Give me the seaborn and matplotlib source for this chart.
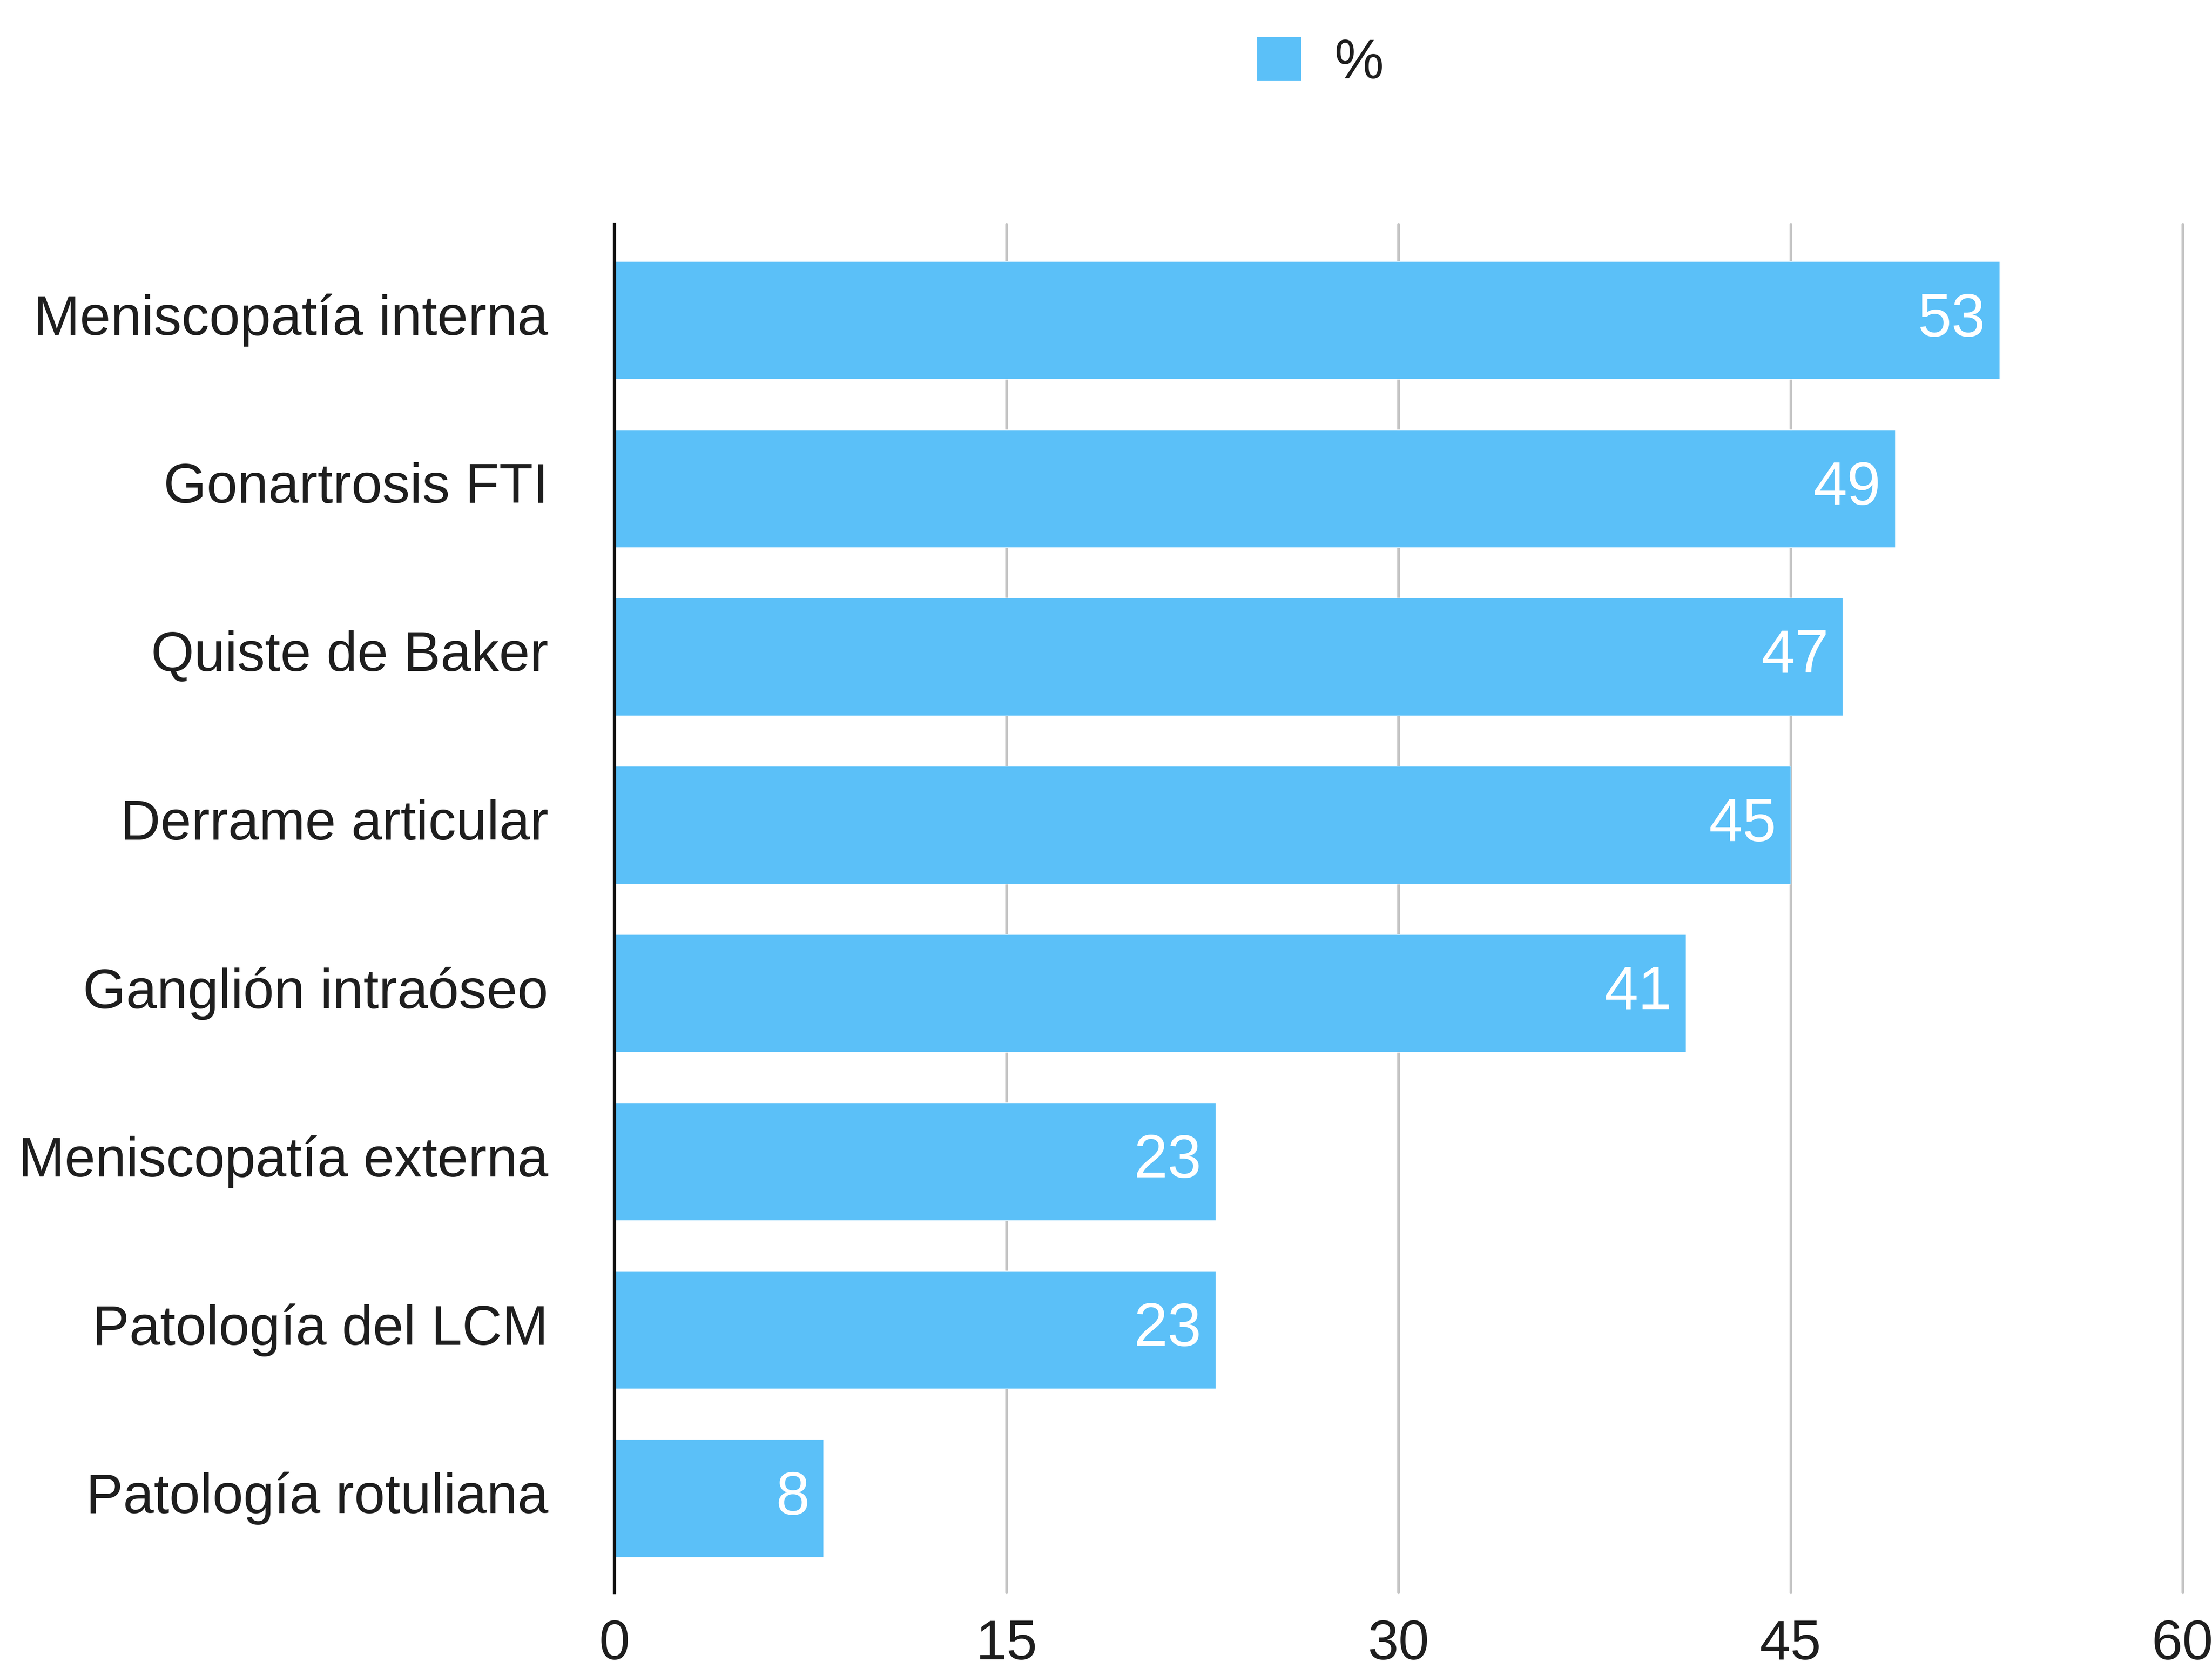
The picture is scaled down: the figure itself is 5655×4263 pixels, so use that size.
import matplotlib
matplotlib.use("Agg")
import matplotlib.pyplot as plt
from matplotlib.patches import Patch
import seaborn as sns
import pandas as pd

# Hallazgos de resonancia de rodilla (%)
categorias = [
    "Meniscopatía interna",
    "Gonartrosis FTI",
    "Quiste de Baker",
    "Derrame articular",
    "Ganglión intraóseo",
    "Meniscopatía externa",
    "Patología del LCM",
    "Patología rotuliana",
]
porcentajes = [53, 49, 47, 45, 41, 23, 23, 8]
ticks_x = [0, 15, 30, 45, 60]
serie = "%"

BAR_COLOR = "#5BC0F8"
TEXT_COLOR = "#1e1e1e"
FS = 102

sns.set_theme(style="white")
plt.rcParams["font.family"] = ["Liberation Sans", "DejaVu Sans"]

df = pd.DataFrame({"categoria": categorias, "valor": porcentajes})

fig = plt.figure(figsize=(56.55, 42.63), dpi=100)
ax = fig.add_axes([0.2778, 0.0453, 0.7089, 0.8203])

sns.barplot(data=df, x="valor", y="categoria", orient="h", color=BAR_COLOR,
            saturation=1, width=0.70, ax=ax)

ax.set_xlim(0, 60)
ax.set_ylim(7.56, -0.57)
ax.set_xticks(ticks_x)
ax.set_xticklabels([str(t) for t in ticks_x], fontsize=FS, color=TEXT_COLOR)
ax.tick_params(axis="x", length=0, pad=48)
ax.tick_params(axis="y", length=0, pad=122, labelsize=FS, labelcolor=TEXT_COLOR)
for lbl in ax.get_yticklabels():
    lbl.set_va("center")
ax.set_xlabel("")
ax.set_ylabel("")

# vertical gridlines
ax.xaxis.grid(True, color="#c4c4c4", linewidth=5)
ax.set_axisbelow(True)
for gl in ax.get_xgridlines():
    gl.set_clip_on(False)

for side in ["top", "right", "bottom"]:
    ax.spines[side].set_visible(False)
ax.spines["left"].set_color("#111111")
ax.spines["left"].set_linewidth(6)
ax.spines["left"].set_zorder(5)

# value labels inside the bar ends
for cont in ax.containers:
    labels = ax.bar_label(cont, labels=[str(v) for v in porcentajes],
                          padding=-26, color="white", fontsize=FS + 10)
    for t in labels:
        t.set_ha("right")

handle = Patch(facecolor=BAR_COLOR, edgecolor="none")
fig.legend([handle], [serie], loc="center", bbox_to_anchor=(0.597, 0.962),
           frameon=False, fontsize=FS, handlelength=0.8, handleheight=0.85,
           handletextpad=0.6, labelcolor=TEXT_COLOR)

fig.savefig("out.png", dpi=100, facecolor="white")
